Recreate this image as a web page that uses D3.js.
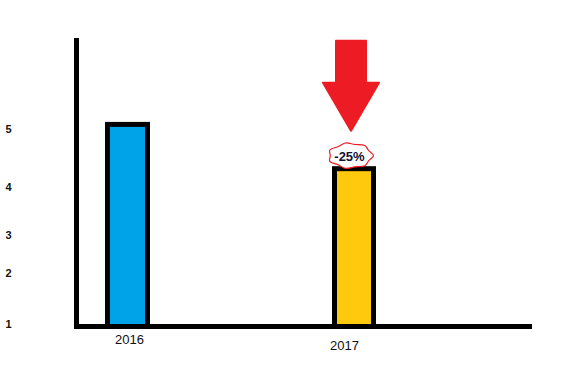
<!DOCTYPE html>
<html>
<head>
<meta charset="utf-8">
<script src="https://cdn.jsdelivr.net/npm/d3@7"></script>
<style>
  body { margin: 0; background: #fff; }
  svg { display: block; }
  .tick text { font-family: "Liberation Sans", Arial, sans-serif; fill: #111; }
</style>
</head>
<body>
<script>
// data
const years = ["2016", "2017"];
const values = [5.08, 4.31];
const yTicks = [1, 2, 3, 4, 5];
const changeLabel = "-25%";

const width = 584, height = 378;
const barColors = ["#00a2e8", "#ffc90e"];

// the hand drawn axis is not evenly spaced, so a piecewise scale
const y = d3.scaleLinear()
    .domain(yTicks)
    .range([324, 272.5, 235, 186.5, 129]);

const x = d3.scalePoint()
    .domain(years)
    .range([127.5, 354]);

const barW = 40;

const svg = d3.select("body").append("svg")
    .attr("width", width)
    .attr("height", height);

// bars
svg.selectAll(".bar")
    .data(years)
    .enter().append("rect")
    .attr("class", "bar")
    .attr("x", d => x(d) - barW / 2 + (d == "2017" ? 0.5 : 0))
    .attr("y", (d, i) => y(values[i]))
    .attr("width", (d, i) => i == 0 ? barW : barW - 1)
    .attr("height", (d, i) => y(1) + 2.5 - y(values[i]))
    .attr("fill", (d, i) => barColors[i])
    .attr("stroke", "#000")
    .attr("stroke-width", 5);

// axis lines (thick, paint style)
svg.append("line")
    .attr("x1", 76.5).attr("x2", 76.5)
    .attr("y1", 38).attr("y2", 329)
    .attr("stroke", "#000").attr("stroke-width", 5);
svg.append("line")
    .attr("x1", 74).attr("x2", 532)
    .attr("y1", y(1) + 2.5).attr("y2", y(1) + 2.5)
    .attr("stroke", "#000").attr("stroke-width", 5);

// y tick labels
const gy = svg.append("g")
    .attr("transform", "translate(8.5,0)")
    .call(d3.axisLeft(y).tickValues(yTicks).tickSize(0).tickPadding(0).tickFormat(d3.format("d")));
gy.select(".domain").remove();
gy.selectAll("text")
    .attr("text-anchor", "middle")
    .attr("x", 0)
    .style("font-size", "11px")
    .style("font-weight", "bold");

// x labels, not quite under the bars in the original
const labelShift = { "2016": [1.5, 0], "2017": [-10, 6] };
const gx = svg.append("g")
    .attr("transform", "translate(0," + 332 + ")")
    .call(d3.axisBottom(x).tickSize(0).tickPadding(0));
gx.select(".domain").remove();
gx.selectAll("text")
    .attr("x", d => labelShift[d][0])
    .attr("y", d => labelShift[d][1])
    .attr("dy", "0.9em")
    .style("font-size", "13px");

// red arrow pointing at the 2017 bar
const tipX = x("2017") - 3, tipY = y(values[1]) - 38;
const arrow = [
  [tipX - 15, tipY - 90], [tipX + 15, tipY - 90], [tipX + 15, tipY - 48],
  [tipX + 28, tipY - 48], [tipX, tipY], [tipX - 28, tipY - 48], [tipX - 15, tipY - 48]
];
svg.append("path")
    .attr("d", "M" + arrow.join("L") + "Z")
    .attr("fill", "#ed1c24")
    .attr("stroke", "#ed1c24")
    .attr("stroke-width", 2)
    .attr("stroke-linejoin", "round");

// cloud around the change label
const cx = x("2017") - 3.5, cy = y(values[1]) - 13;
const cloudPts = d3.range(14).map(i => {
  const a = i / 14 * 2 * Math.PI;
  const r = i % 2 ? 0.88 : 1;
  return [cx + Math.cos(a) * 23 * r, cy + Math.sin(a) * 13 * r];
});
svg.append("path")
    .attr("d", d3.line().curve(d3.curveCatmullRomClosed)(cloudPts))
    .attr("fill", "#fff")
    .attr("stroke", "#ed1c24")
    .attr("stroke-width", 1.2);

svg.append("text")
    .attr("x", cx - 1)
    .attr("y", cy + 5)
    .attr("text-anchor", "middle")
    .style("font-family", "'Liberation Sans', Arial, sans-serif")
    .style("font-size", "13px")
    .style("font-weight", "bold")
    .attr("fill", "#111133")
    .text(changeLabel);
</script>
</body>
</html>
